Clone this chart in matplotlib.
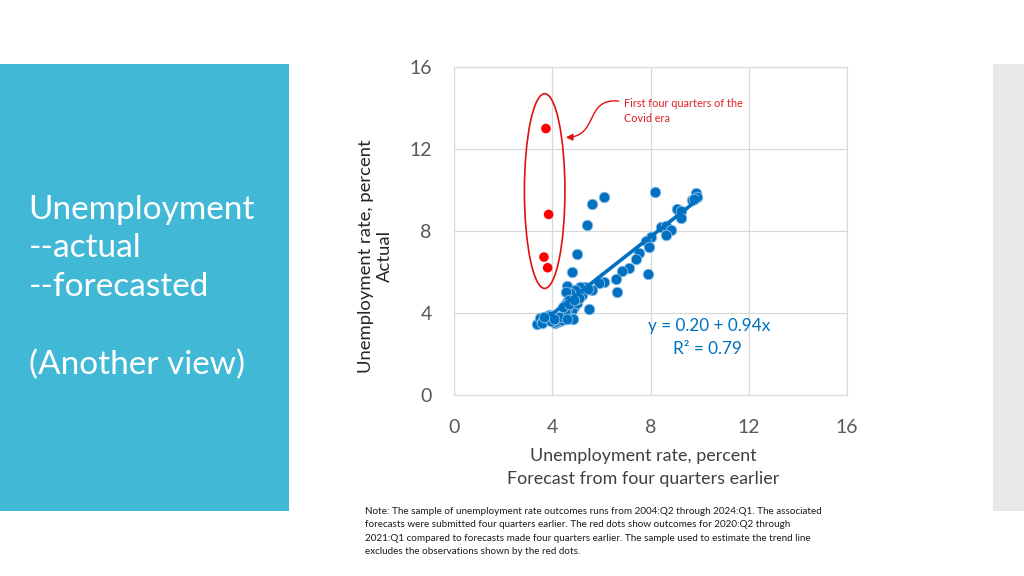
import numpy as np
import matplotlib.pyplot as plt
import matplotlib as mpl
from matplotlib.patches import Ellipse, Rectangle, FancyArrowPatch
from matplotlib.path import Path

mpl.rcParams['font.family'] = ['Lato', 'DejaVu Sans']

# forecast (x) vs actual (y) unemployment rate, percent
forecast = [5.42, 5.60, 6.10, 8.20, 5.01, 4.80, 4.60, 5.51, 7.90, 6.64,
            9.84, 9.91, 9.70, 9.78, 9.08, 9.22, 9.22, 8.41, 8.61, 8.82,
            8.61, 8.00, 7.82, 7.92, 7.52, 7.40, 7.12, 6.82, 6.61, 6.10,
            5.92, 5.62, 5.28, 5.35, 5.14, 5.07, 4.94, 4.80, 4.73, 4.56,
            4.71, 4.94, 4.87, 4.60, 4.53, 4.80, 4.60, 4.53, 4.67, 5.01,
            3.37, 3.51, 3.58, 3.58, 3.71, 3.85, 3.92, 4.12, 4.19, 4.33,
            4.39, 4.26, 4.80, 4.85, 4.60, 5.20, 5.45, 5.00, 4.45, 3.95,
            4.05, 3.65, 4.70, 5.10, 4.90]
actual = [8.28, 9.30, 9.64, 9.92, 6.86, 6.00, 5.32, 4.20, 5.92, 5.04,
          9.84, 9.64, 9.50, 9.56, 9.06, 9.00, 8.62, 8.20, 8.26, 8.03,
          7.80, 7.72, 7.52, 7.22, 6.94, 6.66, 6.18, 6.07, 5.68, 5.53,
          5.45, 5.12, 5.22, 5.28, 5.28, 4.96, 5.12, 4.83, 4.96, 5.04,
          4.63, 4.55, 4.31, 4.55, 4.39, 4.15, 4.23, 4.06, 4.63, 4.47,
          3.46, 3.74, 3.58, 3.50, 3.82, 3.90, 3.85, 3.53, 3.58, 3.62,
          3.66, 3.82, 3.77, 3.70, 3.70, 4.90, 5.15, 4.70, 4.30, 3.60,
          3.70, 3.80, 4.45, 4.75, 4.65]

# first four quarters of the Covid era (2020:Q2 - 2021:Q1)
covid_forecast = [3.74, 3.85, 3.66, 3.81]
covid_actual = [13.0, 8.81, 6.73, 6.21]

intercept, slope = 0.20, 0.94
trend_x = [3.95, 9.97]

ticks = [0, 4, 8, 12, 16]

blue = '#0070c0'
grid_c = '#d9d9d9'

fig = plt.figure(figsize=(10.24, 5.76), dpi=100)

# slide decoration
fig.patches.append(Rectangle((0, 0.1128), 0.2822, 0.7761, transform=fig.transFigure,
                             facecolor='#41b8d5', edgecolor='none', zorder=0))
fig.patches.append(Rectangle((0.9697, 0.1128), 0.0303, 0.7761, transform=fig.transFigure,
                             facecolor='#e8e8e8', edgecolor='none', zorder=0))
fig.text(0.028, 0.662, "Unemployment\n--actual\n--forecasted\n\n(Another view)",
         color='white', fontsize=24, va='top', ha='left', linespacing=1.36)

ax = fig.add_axes([0.4434, 0.3142, 0.3838, 0.5694])
ax.scatter(forecast, actual, s=58, color=blue, edgecolors='#8fc1e8',
           linewidths=0.6, zorder=3)
ax.scatter(covid_forecast, covid_actual, s=48, color='red', edgecolors='none', zorder=4)
tx = np.array(trend_x)
ax.plot(tx, intercept + slope * tx, color=blue, lw=2.6, zorder=4)

ax.add_patch(Ellipse((3.69, 9.95), 1.65, 9.5, fill=False, edgecolor='#e01010',
                     lw=1.2, zorder=5))
ax.text(6.92, 14.5, "First four quarters of the\nCovid era", color='#e02020',
        fontsize=7.8, va='top', ha='left', linespacing=1.45)
arrow_path = Path([(6.7, 14.34), (5.3, 14.5), (5.9, 12.6), (4.55, 12.57)],
                  [Path.MOVETO, Path.CURVE4, Path.CURVE4, Path.CURVE4])
ax.add_patch(FancyArrowPatch(path=arrow_path, arrowstyle='-|>,head_length=4,head_width=2',
                             color='#e01010', lw=1.0, zorder=5))

ax.text(10.4, 3.37, "y = 0.20 + 0.94x", color=blue, fontsize=12.3,
        ha='center', va='center')
ax.text(10.3, 2.24, "R² = 0.79", color=blue, fontsize=12.3,
        ha='center', va='center')

ax.set_xlim(0, 16)
ax.set_ylim(0, 16)
ax.set_xticks(ticks)
ax.set_yticks(ticks)
ax.grid(True, color=grid_c, lw=0.9)
ax.set_axisbelow(True)
for sp in ax.spines.values():
    sp.set_color(grid_c)
ax.tick_params(length=0, colors='#595959', labelsize=14)
ax.tick_params(axis='x', pad=17)
ax.tick_params(axis='y', pad=16)

ax.set_xlabel("Unemployment rate, percent\nForecast from four quarters earlier",
              fontsize=12.9, color='#404040', linespacing=1.57, va='top')
ax.xaxis.set_label_coords(0.481, -0.161)
ax.set_ylabel("Unemployment rate, percent\nActual", fontsize=13.3,
              color='#262626', linespacing=1.2, va='center')
ax.yaxis.set_label_coords(-0.2, 0.424)

note = ("Note: The sample of unemployment rate outcomes runs from 2004:Q2 through 2024:Q1. The associated\n"
        "forecasts were submitted four quarters earlier. The red dots show outcomes for 2020:Q2 through\n"
        "2021:Q1 compared to forecasts made four quarters earlier. The sample used to estimate the trend line\n"
        "excludes the observations shown by the red dots.")
fig.text(0.3565, 0.1195, note, fontsize=7.15, color='#1a1a1a', va='top', ha='left',
         linespacing=1.6)

plt.savefig("out.png", dpi=100)
